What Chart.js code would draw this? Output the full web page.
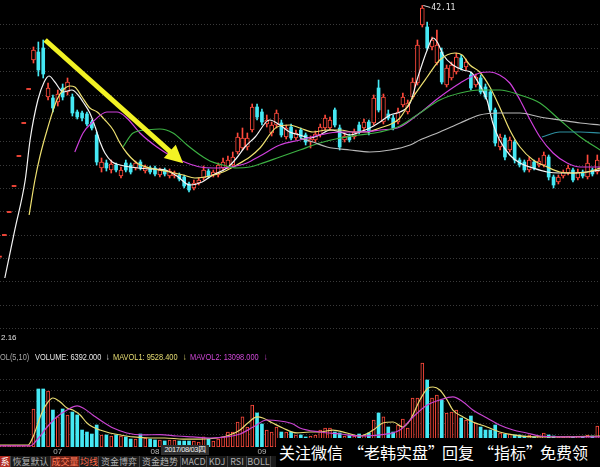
<!DOCTYPE html>
<html>
<head>
<meta charset="utf-8">
<script src="https://cdn.jsdelivr.net/npm/chart.js@4.4.1/dist/chart.umd.min.js"></script>
<style>
  html, body { margin: 0; padding: 0; background: #000; }
  #wrap { position: relative; width: 600px; height: 467px; overflow: hidden; background: #000;
          font-family: "Liberation Sans", Arial, sans-serif; }
  canvas { position: absolute; left: 0; }
  #priceChart { top: 0; }
  #volChart { top: 356px; }
  .t { position: absolute; white-space: nowrap; line-height: 10px; }
  #volHead .t { top: 352px; font-size: 9.5px; transform: scaleX(0.78); transform-origin: 0 50%; }
  #minTag { left: 1px; top: 333px; font-size: 8px; color: #e0e0e0; }
  #dateTag { left: 161px; top: 445px; width: 48px; height: 10px; background: #2e2e2e; color: #f0f0f0;
             font-size: 7.5px; text-align: center; letter-spacing: -0.4px; overflow: hidden; }
  #tabs { position: absolute; left: 0; top: 456px; width: 276px; height: 11px; background: #1a1a1a; }
  .tab { position: absolute; top: 0; height: 11px; line-height: 11px; font-size: 9px; color: #b0b0b0; text-align: center;
         border-right: 1px solid #444; overflow: hidden; font-family: "Noto Sans CJK SC", "Liberation Sans", sans-serif; }
  #ad { position: absolute; left: 276px; top: 438px; width: 324px; height: 29px; background: #000; }
  #ad .t { top: 6px; font-size: 16px; line-height: 17px; color: #fff; font-family: "Noto Sans CJK SC", sans-serif; }
</style>
</head>
<body>
<div id="wrap">
  <canvas id="priceChart" width="600" height="340"></canvas>
  <div class="t" id="minTag">2.16</div>
  <div id="volHead">
    <span class="t" style="left:0;color:#a8a8a8">OL(5,10)</span>
    <span class="t" style="left:35px;color:#e8e8e8">VOLUME: 6392.000</span>
    <span class="t" style="left:106px;color:#e8e8e8">↓</span>
    <span class="t" style="left:113px;color:#e6dc72">MAVOL1: 9528.400</span>
    <span class="t" style="left:183px;color:#e6dc72">↓</span>
    <span class="t" style="left:190px;color:#d048d8">MAVOL2: 13098.000</span>
    <span class="t" style="left:264px;color:#d048d8">↓</span>
  </div>
  <canvas id="volChart" width="600" height="100"></canvas>
  <div class="t" id="dateTag">2017/08/03四</div>
  <div id="tabs">
    <div class="tab" style="left:0;width:10px;background:#b02a20;color:#fff">系</div>
    <div class="tab" style="left:11px;width:39px">恢复默认</div>
    <div class="tab" style="left:51px;width:28px;background:#6e2418;color:#ff7a5a">成交量</div>
    <div class="tab" style="left:80px;width:18px;color:#ff6a4a">均线</div>
    <div class="tab" style="left:99px;width:40px">资金博弈</div>
    <div class="tab" style="left:140px;width:40px">资金趋势</div>
    <div class="tab" style="left:181px;width:25px">MACD</div>
    <div class="tab" style="left:207px;width:20px">KDJ</div>
    <div class="tab" style="left:228px;width:18px">RSI</div>
    <div class="tab" style="left:247px;width:23px">BOLL</div>
  </div>
  <div id="ad">
    <span class="t" style="left:3px">关注微信</span>
    <span class="t" style="left:72px">“老韩实盘”</span>
    <span class="t" style="left:166px">回复</span>
    <span class="t" style="left:202px">“指标”</span>
    <span class="t" style="left:264px">免费领</span>
  </div>
</div>
<script>
// day index of the first candle (seven one-price limit-up days before day 0)
const firstDay = -7;

// [open, high, low, close]
const ohlc = [
  [19.5, 19.5, 19.5, 19.5],
  [21.45, 21.45, 21.45, 21.45], [23.52, 23.52, 23.52, 23.52], [25.86, 25.86, 25.86, 25.86],
  [28.56, 28.56, 28.56, 28.56], [31.53, 31.53, 31.53, 31.53], [34.59, 34.59, 34.59, 34.59],
  [37.2, 38.37, 36.93, 38.1], [37.92, 38.82, 35.76, 36.3], [38.28, 39.0, 35.58, 35.94],
  [33.87, 35.13, 33.6, 34.68], [33.78, 34.05, 32.52, 32.88], [33.42, 34.5, 33.06, 34.14],
  [34.68, 35.04, 33.6, 33.87], [34.32, 35.58, 34.05, 35.22], [33.87, 34.14, 32.16, 32.43],
  [32.52, 32.7, 31.89, 32.07], [32.43, 32.61, 31.71, 31.98], [32.34, 32.52, 31.26, 31.44],
  [31.62, 31.8, 30.9, 31.08], [30.45, 30.72, 27.75, 28.02], [27.48, 28.38, 27.12, 28.02],
  [27.93, 28.2, 27.21, 27.48], [27.3, 28.2, 27.03, 27.84], [27.75, 27.93, 27.12, 27.3],
  [26.76, 27.57, 26.58, 27.3], [27.93, 28.2, 27.12, 27.3], [27.75, 27.93, 26.94, 27.12],
  [27.48, 28.11, 27.3, 27.93], [28.02, 28.2, 27.3, 27.48], [27.21, 27.75, 27.03, 27.57],
  [27.48, 27.66, 26.94, 27.12], [27.48, 27.66, 26.76, 26.94], [26.85, 27.48, 26.67, 27.3],
  [27.3, 27.48, 26.76, 26.94], [26.76, 27.39, 26.58, 27.21], [26.76, 27.21, 26.58, 27.03],
  [26.85, 27.03, 26.31, 26.49], [26.67, 26.85, 25.68, 25.86], [26.04, 26.22, 25.32, 25.5],
  [25.68, 26.4, 25.5, 26.13], [26.13, 26.58, 25.95, 26.4], [26.58, 27.66, 26.4, 27.3],
  [27.21, 27.39, 26.58, 26.76], [26.85, 27.3, 26.67, 27.12], [26.85, 27.93, 26.67, 27.75],
  [27.48, 28.38, 27.3, 28.02], [27.57, 28.56, 27.39, 28.2], [27.75, 28.92, 27.57, 28.47],
  [28.92, 30.63, 28.74, 30.27], [29.28, 31.08, 29.1, 30.18], [29.37, 30.63, 29.1, 30.18],
  [30.9, 33.24, 30.72, 32.97], [32.97, 33.24, 31.8, 32.07], [32.52, 32.79, 31.35, 31.62],
  [31.44, 32.25, 31.17, 31.8], [30.63, 31.62, 30.36, 31.35], [31.35, 32.7, 31.08, 32.43],
  [31.53, 31.8, 30.27, 30.45], [30.27, 31.35, 30.09, 31.08], [31.17, 31.44, 30.0, 30.18],
  [30.18, 30.9, 30.0, 30.63], [30.9, 31.08, 30.09, 30.27], [30.45, 30.63, 29.55, 29.82],
  [29.82, 30.36, 29.28, 30.09], [30.0, 30.81, 29.82, 30.54], [30.45, 31.44, 30.27, 31.17],
  [31.08, 32.25, 30.9, 31.98], [31.08, 32.07, 30.9, 31.8], [32.7, 32.88, 31.17, 31.35],
  [31.08, 31.35, 29.1, 29.37], [30.0, 30.63, 29.82, 30.36], [30.36, 30.54, 29.82, 30.0],
  [30.27, 30.99, 30.09, 30.72], [31.35, 31.62, 30.54, 30.72], [31.08, 31.89, 30.9, 31.62],
  [31.62, 31.8, 30.45, 30.72], [31.53, 34.05, 31.35, 33.78], [34.68, 35.4, 32.52, 32.7],
  [31.62, 34.14, 31.44, 33.87], [32.34, 32.7, 31.8, 31.98], [31.98, 32.25, 30.9, 31.08],
  [31.62, 32.88, 31.44, 32.52], [33.15, 34.23, 32.97, 33.87], [32.52, 33.6, 32.34, 33.33],
  [33.87, 35.58, 33.69, 35.22], [35.13, 39.0, 34.95, 38.55], [40.35, 42.11, 40.17, 41.88],
  [40.17, 40.62, 38.1, 38.28], [38.37, 39.27, 38.1, 39.0], [36.93, 39.9, 36.75, 38.55],
  [37.92, 38.28, 35.04, 35.22], [34.95, 36.75, 34.77, 36.48], [35.58, 37.02, 35.4, 36.75],
  [36.12, 37.83, 35.94, 37.47], [37.38, 37.65, 36.3, 36.48], [36.57, 37.29, 36.3, 37.02],
  [35.85, 36.12, 34.5, 34.68], [34.95, 35.94, 34.77, 35.67], [35.58, 35.85, 34.14, 34.32],
  [34.77, 35.04, 33.69, 33.87], [34.32, 34.5, 32.52, 32.7], [32.7, 32.88, 29.46, 29.73],
  [29.37, 30.54, 29.1, 30.27], [30.18, 30.45, 28.2, 28.47], [29.1, 30.27, 28.92, 30.0],
  [29.82, 30.0, 27.93, 28.2], [28.2, 28.38, 27.57, 27.75], [28.02, 28.2, 27.12, 27.3],
  [27.3, 28.47, 27.12, 28.2], [28.02, 28.2, 27.3, 27.48], [27.75, 28.38, 27.57, 28.11],
  [27.75, 28.92, 27.57, 28.65], [28.47, 28.65, 26.4, 26.67], [26.67, 26.85, 25.68, 25.95],
  [26.22, 26.85, 26.04, 26.67], [26.76, 27.3, 26.58, 27.12], [27.03, 27.75, 26.85, 27.48],
  [27.3, 27.48, 26.22, 26.4], [26.58, 27.39, 26.4, 27.12], [27.12, 27.3, 26.58, 26.76],
  [26.67, 28.65, 26.49, 27.93], [27.3, 27.48, 26.76, 26.94], [27.12, 28.65, 26.94, 28.2]
];

const volumes = [
  1500, 1500, 1500, 1500, 1500, 1500, 1500,
  40100, 61200, 61200, 59100, 39000, 31700, 40100, 33800, 36900, 33800,
  17900, 15800, 13700, 23200, 12700, 12700, 11600, 12700, 11600, 10600,
  8400, 8400, 13700, 9500, 8400, 7400, 7400, 6392, 7400, 7400,
  6300, 6300, 6300, 6300, 5300, 10600, 8400, 6300, 8400, 10600,
  15800, 15800, 26400, 31700, 21100, 44300, 35900, 24300, 17900, 15800,
  21100, 15800, 15800, 15800, 12700, 12700, 10600, 11600, 12700, 17900,
  20000, 20000, 15800, 14800, 11600, 12700, 11600, 13700, 12700, 14800,
  28500, 35900, 31700, 21100, 15800, 23200, 29500, 20000, 51700, 51700,
  88600, 70700, 51700, 54900, 49600, 35900, 36900, 39000, 30600, 28500,
  32700, 25300, 21100, 17900, 17900, 23200, 14800, 13700, 13700, 12700,
  12700, 11600, 12700, 10600, 11600, 14800, 12700, 11600, 10600, 10600,
  11600, 10600, 11600, 10600, 12700, 11600, 22200
];

// moving averages: [day index, price]
const ma5 = [[-5.9,17.58],[-3.8,22.0],[-1.7,26.4],[-0.7,30.0],[0.9,33.6],[2.2,35.22],[3.2,35.76],[4.4,35.22],[6.1,34.32],
  [7.9,34.5],[9.2,34.05],[10.2,33.42],[11.6,32.43],[12.7,31.17],[13.7,29.82],[14.7,28.83],[16.2,28.02],
  [17.8,27.75],[19.9,27.57],[24.0,27.39],[27.1,27.3],[29.5,26.76],[32.2,25.95],[34.7,26.22],[36.9,26.85],
  [39.8,27.48],[41.8,28.38],[43.5,29.37],[45.6,30.27],[48.6,31.8],[50.7,31.35],[52.7,30.72],[54.8,30.45],
  [56.9,30.18],[58.9,30.45],[61.0,30.9],[63.1,30.72],[65.1,30.45],[67.1,30.72],[69.2,31.08],[71.3,31.62],
  [73.4,32.25],[75.4,32.52],[77.5,33.33],[79.1,35.67],[81.0,38.1],[82.2,39.18],[83.2,38.73],[84.3,37.65],
  [86.3,36.75],[88.4,36.3],[90.2,36.03],[91.8,34.95],[93.3,33.6],[94.5,31.53],[95.9,30.0],[98.0,28.65],
  [100.1,27.93],[102.8,27.48],[105.7,27.12],[108.3,27.03],[111.1,27.03],[113.9,27.12],[116.6,27.3]];
const ma10 = [[-0.9,23.25],[0.3,26.4],[1.3,28.47],[2.8,30.9],[4.8,33.6],[6.1,34.5],[7.5,34.86],
  [8.5,34.77],[10.0,33.87],[11.6,32.88],[13.1,32.52],[14.7,31.8],[16.4,30.9],[17.8,29.73],[19.2,28.83],
  [21.3,27.93],[24.0,27.48],[28.1,27.12],[30.8,26.85],[33.2,26.58],[36.3,26.76],[39.0,27.12],[41.8,27.75],
  [44.5,28.47],[46.6,29.28],[50.1,31.17],[52.7,31.35],[54.8,31.08],[57.5,30.72],[60.4,30.9],[63.1,30.9],
  [65.7,30.72],[68.5,30.72],[71.3,31.08],[74.0,31.53],[75.4,31.98],[78.1,33.87],[81.0,35.67],[83.6,37.2],
  [86.7,37.83],[88.2,37.65],[89.8,36.75],[91.8,36.12],[93.9,34.77],[95.9,32.97],[98.0,30.9],[100.1,29.37],
  [102.8,28.2],[105.7,27.57],[108.3,27.12],[111.1,27.03],[113.9,27.12],[116.6,27.48]];
const ma20 = [[8.5,28.92],[10.2,30.63],[12.2,31.62],[15.1,32.52],[17.2,32.52],[19.2,31.98],[21.9,30.63],
  [25.4,29.37],[28.7,28.47],[31.6,27.93],[34.3,27.57],[36.9,27.48],[40.4,27.57],[43.9,27.93],[46.6,28.56],
  [50.7,29.55],[54.8,30.0],[58.9,30.45],[63.1,30.72],[67.1,30.72],[71.3,30.9],[75.4,31.17],[79.5,32.43],
  [83.6,33.87],[87.8,35.13],[91.8,36.03],[93.9,36.12],[95.9,35.85],[98.0,35.13],[100.1,33.6],[102.2,31.8],
  [104.2,30.27],[106.9,28.83],[109.8,27.93],[112.5,27.57],[116.6,27.57]];
const ma30 = [[18.4,29.37],[20.5,30.63],[23.4,30.9],[26.0,30.99],[28.7,30.63],[31.6,29.55],[34.3,28.65],
  [36.3,28.11],[39.0,27.75],[41.8,27.48],[44.5,27.57],[46.6,27.84],[50.7,28.47],[54.8,29.1],[58.9,29.73],
  [63.1,30.18],[67.1,30.45],[71.3,30.72],[75.4,31.26],[79.5,32.43],[83.6,33.6],[87.8,34.23],[91.8,34.5],
  [95.9,34.5],[100.1,34.05],[104.2,33.33],[108.3,31.8],[112.5,30.27],[116.6,29.1]];
const ma60 = [[54.8,30.18],[57.5,29.82],[60.4,29.37],[65.1,29.1],[69.2,28.92],[73.4,29.1],[77.5,29.55],
  [79.5,30.0],[83.6,30.72],[87.8,31.53],[91.8,32.25],[95.9,32.43],[100.1,32.43],[104.2,32.07],[108.3,31.8],
  [112.5,31.53],[116.6,31.35]];
const ma120 = [[104.6,30.27],[108.3,30.72],[112.5,30.72],[116.6,30.63]];

// volume moving averages: [day index, volume]
const volMa5 = [[-6.9,2100],[-1.1,2100],[-0.1,10600],[1.7,35900],[3.0,47500],[4.0,51700],[5.5,47500],
  [6.9,41100],[8.1,39000],[9.6,33800],[11.0,25300],[12.2,21100],[13.7,17900],[15.7,14800],[17.8,12700],
  [20.5,10600],[24.0,9500],[27.0,9500],[30.8,8400],[34.3,8400],[37.8,9500],[40.4,12700],[42.5,17900],
  [44.1,25300],[46.0,31700],[47.2,30600],[49.2,25300],[51.3,20000],[54.2,14800],[56.9,15800],[58.9,15800],
  [61.6,17900],[64.5,14800],[67.1,11600],[69.9,17900],[71.9,25300],[74.0,26400],[76.0,21100],[77.5,28500],
  [79.5,49600],[81.2,62200],[82.2,63300],[83.6,60100],[85.1,49600],[86.3,39000],[88.4,31700],[90.4,26400],
  [93.3,21100],[95.9,15800],[98.7,12700],[102.8,10600],[108.3,10600],[116.6,11600]];
const volMa10 = [[-6.9,1100],[-0.7,1100],[0.7,7400],[2.8,21100],[4.8,31700],[6.9,39000],[9.0,43300],
  [10.2,41100],[12.2,33800],[14.3,26400],[16.4,20000],[19.2,14800],[22.5,12700],[26.0,13100],[29.5,11600],
  [32.8,10600],[36.3,9500],[39.8,10600],[42.5,13700],[45.2,21100],[48.0,28500],[50.7,27400],[53.4,24300],
  [54.8,20000],[58.9,15800],[63.1,13700],[67.1,11600],[71.3,12700],[75.4,17900],[78.1,31700],[81.0,44300],
  [83.6,49600],[86.3,52800],[88.4,47500],[90.4,39000],[93.3,30600],[95.9,23200],[98.7,17900],[101.5,14800],
  [104.2,11600],[110.4,10600],[116.6,10600]];

const monthTicks = [5, 25, 47];
const monthLabels = ['07', '08', '09'];
const priceGrid = [40.35, 38.25, 36.15, 34.05, 31.95, 29.85, 27.75, 25.65, 23.55, 21.45, 19.35, 17.25, 15.15, 13.05];
const volGrid = [70700, 59100, 47500, 35900, 24300, 12700];

// hand-drawn arrow on the chart, [day index, price]
const arrowFrom = [2.4, 39.0];
const arrowTo = [30.8, 27.9];

const RED = '#ff4a3c';
const CYAN = '#45e8f4';
const xMin = -6.89, xMax = 116.56;

const wicks = [], upBodies = [], downBodies = [], flats = [], volUp = [], volDown = [];
ohlc.forEach(([o, h, l, c], k) => {
  const x = firstDay + k;
  const up = c >= o;
  wicks.push({ x, y: [l, h], up });
  if (o === c) flats.push({ x, y: [o - 0.05, o + 0.05] });
  else if (up) upBodies.push({ x, y: [o, c] });
  else downBodies.push({ x, y: [c, o] });
  (up ? volUp : volDown).push({ x, y: volumes[k] });
});

const toPoints = arr => arr.map(([x, y]) => ({ x, y }));
function maLine(arr, color) {
  return { type: 'line', data: toPoints(arr), borderColor: color, borderWidth: 1.2, pointRadius: 0,
           cubicInterpolationMode: 'monotone', order: 1 };
}

const arrowPlugin = {
  id: 'arrow',
  afterDatasetsDraw(chart) {
    const { ctx, scales: { x, y } } = chart;
    const x1 = x.getPixelForValue(arrowFrom[0]), y1 = y.getPixelForValue(arrowFrom[1]);
    const x2 = x.getPixelForValue(arrowTo[0]), y2 = y.getPixelForValue(arrowTo[1]);
    const len = Math.hypot(x2 - x1, y2 - y1);
    const dx = (x2 - x1) / len, dy = (y2 - y1) / len;
    const head = 18, half = 9;
    const bx = x2 - dx * head, by = y2 - dy * head;
    ctx.save();
    ctx.strokeStyle = '#f2f224';
    ctx.fillStyle = '#f2f224';
    ctx.lineWidth = 5;
    ctx.beginPath();
    ctx.moveTo(x1, y1);
    ctx.lineTo(bx + dx * 2, by + dy * 2);
    ctx.stroke();
    ctx.beginPath();
    ctx.moveTo(x2, y2);
    ctx.lineTo(bx - dy * half, by + dx * half);
    ctx.lineTo(bx + dy * half, by - dx * half);
    ctx.closePath();
    ctx.fill();

    // highest price marker
    let best = 0;
    ohlc.forEach((r, k) => { if (r[1] > ohlc[best][1]) best = k; });
    const hx = x.getPixelForValue(firstDay + best), hy = y.getPixelForValue(ohlc[best][1]);
    ctx.strokeStyle = '#d8d8d8';
    ctx.lineWidth = 1;
    ctx.beginPath();
    ctx.moveTo(hx + 1, hy);
    ctx.lineTo(hx + 8, hy + 2);
    ctx.stroke();
    ctx.fillStyle = '#e8e8e8';
    ctx.font = '8px "DejaVu Sans Mono", monospace';
    ctx.textBaseline = 'middle';
    ctx.fillText(ohlc[best][1].toFixed(2), hx + 9, hy + 2);
    ctx.restore();
  }
};

// month labels under the volume pane, placed with the x scale
const monthPlugin = {
  id: 'months',
  afterDraw(chart) {
    const { ctx, chartArea, scales: { x } } = chart;
    ctx.save();
    ctx.fillStyle = '#b8b8b8';
    ctx.font = '8px "Liberation Sans", sans-serif';
    ctx.textAlign = 'center';
    ctx.textBaseline = 'middle';
    monthTicks.forEach((v, i) => ctx.fillText(monthLabels[i], x.getPixelForValue(v), chartArea.bottom + 5));
    ctx.restore();
  }
};

const hidden = { legend: { display: false }, tooltip: { enabled: false } };

new Chart(document.getElementById('priceChart'), {
  type: 'bar',
  data: {
    datasets: [
      { data: wicks, backgroundColor: c => (c.raw && c.raw.up ? RED : CYAN), barThickness: 1, grouped: false, order: 6 },
      { data: upBodies, backgroundColor: '#000', borderColor: RED, borderWidth: 1, borderSkipped: false,
        barThickness: 4, grouped: false, order: 5 },
      { data: downBodies, backgroundColor: CYAN, barThickness: 3, grouped: false, order: 5 },
      { data: flats, backgroundColor: RED, barThickness: 4, grouped: false, order: 5 },
      maLine(ma120, '#2e8fa0'),
      maLine(ma60, '#b8b8b8'),
      maLine(ma30, '#3cb043'),
      maLine(ma20, '#cf3fdc'),
      maLine(ma10, '#eee070'),
      maLine(ma5, '#f4f4f4')
    ]
  },
  options: {
    responsive: false, animation: false, events: [],
    layout: { padding: 0 },
    plugins: hidden,
    scales: {
      x: { type: 'linear', min: xMin, max: xMax, offset: false, display: false },
      y: {
        min: 12, max: 42.6, position: 'left',
        afterFit: s => { s.width = 0; },
        afterBuildTicks: s => { s.ticks = priceGrid.map(v => ({ value: v })); },
        ticks: { display: false },
        grid: { color: '#3a3a3a', drawTicks: false },
        border: { display: false, dash: [1, 2] }
      }
    }
  },
  plugins: [arrowPlugin]
});

new Chart(document.getElementById('volChart'), {
  type: 'bar',
  data: {
    datasets: [
      { data: volUp, backgroundColor: '#000', borderColor: RED, borderWidth: 1, borderSkipped: false,
        barThickness: 3, grouped: false, order: 3 },
      { data: volDown, backgroundColor: CYAN, barThickness: 3, grouped: false, order: 3 },
      { type: 'line', data: toPoints(volMa10), borderColor: '#c844d0', borderWidth: 1.2, pointRadius: 0,
        cubicInterpolationMode: 'monotone', order: 1 },
      { type: 'line', data: toPoints(volMa5), borderColor: '#e8da72', borderWidth: 1.2, pointRadius: 0,
        cubicInterpolationMode: 'monotone', order: 1 }
    ]
  },
  options: {
    responsive: false, animation: false, events: [],
    layout: { padding: { bottom: 9 } },
    plugins: hidden,
    scales: {
      x: { type: 'linear', min: xMin, max: xMax, offset: false, display: false },
      y: {
        min: 0, max: 96000, position: 'left',
        afterFit: s => { s.width = 0; },
        afterBuildTicks: s => { s.ticks = volGrid.map(v => ({ value: v })); },
        ticks: { display: false },
        grid: { color: '#333', drawTicks: false },
        border: { display: false, dash: [1, 2] }
      }
    }
  },
  plugins: [monthPlugin]
});
</script>
</body>
</html>
